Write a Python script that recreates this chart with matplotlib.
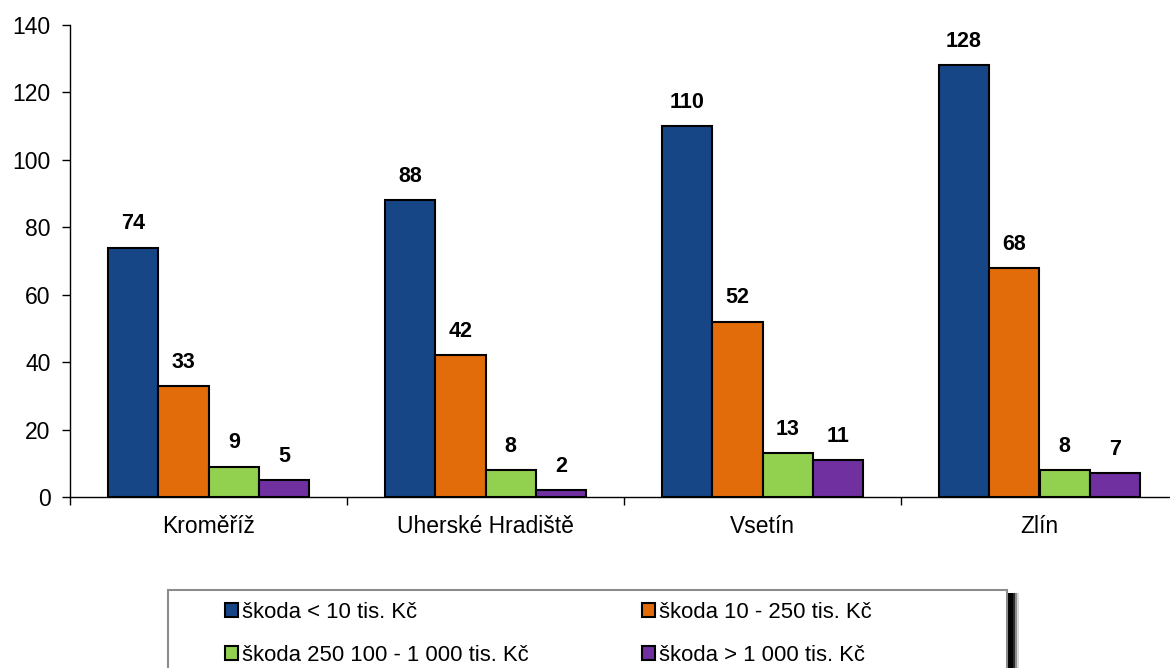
import numpy as np
import matplotlib.pyplot as plt
from matplotlib.patches import Rectangle

plt.rcParams["font.family"] = ["Liberation Sans", "DejaVu Sans"]

districts = ["Kroměříž", "Uherské Hradiště", "Vsetín", "Zlín"]
series_names = [
    "škoda < 10 tis. Kč",
    "škoda 10 - 250 tis. Kč",
    "škoda 250 100 - 1 000 tis. Kč",
    "škoda > 1 000 tis. Kč",
]
dmg_small = [74, 88, 110, 128]
dmg_mid = [33, 42, 52, 68]
dmg_large = [9, 8, 13, 8]
dmg_huge = [5, 2, 11, 7]
colors = ["#164686", "#E36C0A", "#92D050", "#7030A0"]

values = [dmg_small, dmg_mid, dmg_large, dmg_huge]

W, H = 1170, 668
fig = plt.figure(figsize=(W / 100, H / 100), dpi=100)
ax = fig.add_axes([70 / W, 1 - 497 / H, 1108 / W, (497 - 25) / H])

x = np.arange(len(districts))
bw = 0.182
for k, (vals, name, col) in enumerate(zip(values, series_names, colors)):
    pos = x + (k - 1.5) * bw
    bars = ax.bar(pos, vals, bw, color=col, edgecolor="black", linewidth=1.5,
                  label=name, zorder=3)
    for b, v in zip(bars, vals):
        ax.annotate(str(v), (b.get_x() + b.get_width() / 2, v),
                    xytext=(0, 9.5), textcoords="offset points",
                    ha="center", va="bottom", fontsize=15.5, fontweight="bold")

ax.set_xlim(-0.5, len(districts) - 0.5)
ax.set_ylim(0, 140)
ax.set_yticks(range(0, 141, 20))
ax.set_xticks(x)
ax.set_xticklabels(districts)
ax.set_xticks(np.arange(-0.5, len(districts), 1), minor=True)
ax.tick_params(axis="x", which="major", length=0, pad=13, labelsize=16.5)
ax.tick_params(axis="x", which="minor", length=6, direction="out", width=1)
ax.tick_params(axis="y", length=6, direction="out", width=1, labelsize=16.5, pad=8)
for s in ["top", "right"]:
    ax.spines[s].set_visible(False)
for s in ["left", "bottom"]:
    ax.spines[s].set_linewidth(1)

# legend box with a soft shadow on the right
bx0, by0, bx1 = 168, 590, 1007
for off, a in [(12, 0.15), (10, 0.35), (8, 0.7), (6, 0.9)]:
    sh = Rectangle((bx0 / W, -0.05), (bx1 - bx0 + off) / W,
                   1 - (by0 + 3) / H + 0.05, transform=fig.transFigure,
                   facecolor="black", alpha=a, edgecolor="none", zorder=1)
    fig.patches.append(sh)
box = Rectangle((bx0 / W, -0.05), (bx1 - bx0) / W, 1 - by0 / H + 0.05,
                transform=fig.transFigure, facecolor="white", edgecolor="#8c8c8c",
                linewidth=1.5, zorder=2)
fig.patches.append(box)

handles, labels = ax.get_legend_handles_labels()
order = [0, 2, 1, 3]  # row-wise filling like the original
leg = fig.legend([handles[i] for i in order], [labels[i] for i in order],
                 loc="upper left", bbox_to_anchor=(214 / W, 1 - 591 / H),
                 ncol=2, frameon=False, fontsize=15.9, handlelength=0.6,
                 handleheight=0.6, handletextpad=0.18, columnspacing=5.1,
                 labelspacing=0.98, borderpad=0)
leg.set_zorder(5)

fig.savefig("out.png", dpi=100)
